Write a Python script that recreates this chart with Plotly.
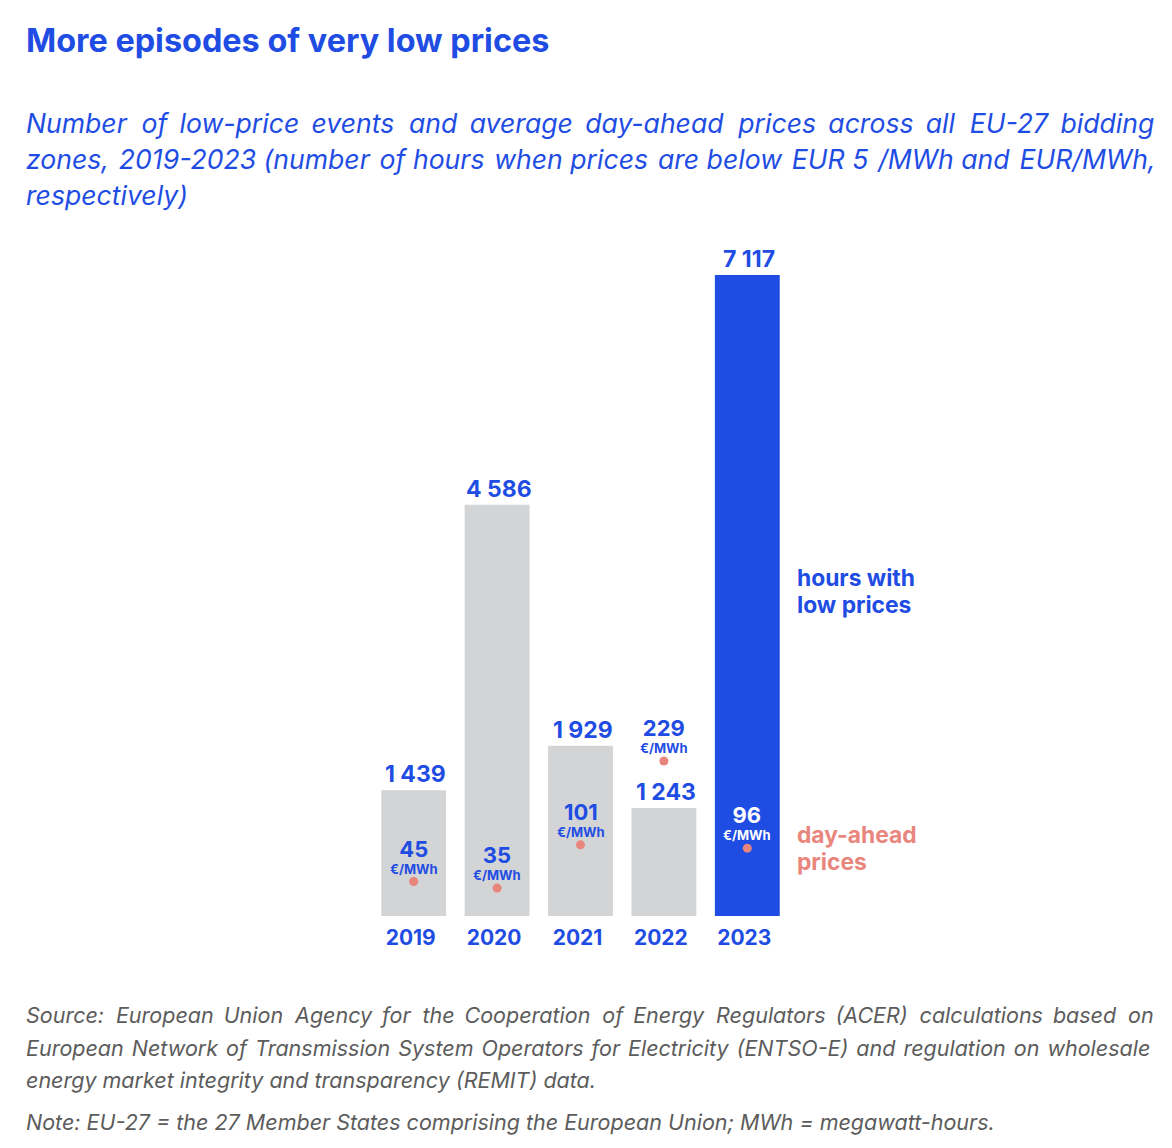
import plotly.graph_objects as go

# ---- data ----
years = ["2019", "2020", "2021", "2022", "2023"]
low_price_hours = [1439, 4586, 1929, 1243, 7117]
hour_labels = ["1 439", "4 586", "1 929", "1 243", "7 117"]
avg_prices = [45, 35, 101, 229, 96]
price_labels = ["45", "35", "101", "229", "96"]

# ---- styles ----
W, H = 1172, 1148
BLUE = "#1f4de3"
GREY = "#d3d4d6"
SALMON = "#e8867e"
NOTE = "#5c5c5c"
FONT = "Inter"
THIN = "\u2009"
HAIR = "\u200a"

def px(x):
    return x / W

def py(y):
    return 1 - y / H

def justify(line, extra, every=1):
    words = line.split(" ")
    out = words[0]
    for k, w in enumerate(words[1:]):
        out += (" " + extra if k % every == 0 else " ") + w
    return out

bar_colors = [GREY, GREY, GREY, GREY, BLUE]
price_text_colors = [BLUE, BLUE, BLUE, BLUE, "white"]
idx = list(range(len(years)))

fig = go.Figure()
fig.add_trace(go.Bar(
    x=idx, y=low_price_hours, marker=dict(color=bar_colors, line=dict(width=0)),
    width=0.778, hoverinfo="skip", showlegend=False,
))
fig.add_trace(go.Scatter(
    x=idx, y=avg_prices, yaxis="y2", mode="markers",
    marker=dict(color=SALMON, size=9), hoverinfo="skip", showlegend=False,
))

ann = []
# hours labels above bars
for i, v, t in zip(idx, low_price_hours, hour_labels):
    ann.append(dict(x=i, y=v, xref="x", yref="y", text=t, showarrow=False,
                    yanchor="middle", yshift=16, xshift=2,
                    font=dict(family=FONT, size=23, color=BLUE, weight=700)))
# price labels (number + unit in one block)
for i, p, t, c in zip(idx, avg_prices, price_labels, price_text_colors):
    ann.append(dict(x=i, y=p, xref="x", yref="y2",
                    text="<span style='font-size:22px'>" + t + "</span><br>€/MWh",
                    showarrow=False, yanchor="bottom", yshift=4, borderpad=0,
                    font=dict(family=FONT, size=13, color=c, weight=700)))

# title & subtitle
ann.append(dict(x=px(24), y=py(41), xref="paper", yref="paper", xanchor="left", yanchor="middle",
                text="More episodes of very low prices", showarrow=False,
                font=dict(family=FONT, size=32.4, color=BLUE, weight=700)))
sub_lines = [
    justify(justify("Number of low-price events and average day-ahead prices across all EU-27 bidding", THIN), HAIR, 3),
    justify("zones, 2019-2023 (number of hours when prices are below EUR 5 /MWh and EUR/MWh,", HAIR, 2),
    "respectively)",
]
for i, line in enumerate(sub_lines):
    ann.append(dict(x=px(24), y=py(123 + 36 * i), xref="paper", yref="paper", xanchor="left",
                    yanchor="middle", text="<i>" + line + "</i>", showarrow=False,
                    font=dict(family=FONT, size=26.6, color=BLUE)))

# series labels
for txt, yy, col in [("hours with", 577, BLUE), ("low prices", 604, BLUE),
                     ("day-ahead", 834, SALMON), ("prices", 861, SALMON)]:
    ann.append(dict(x=px(795), y=py(yy), xref="paper", yref="paper", xanchor="left",
                    yanchor="middle", text=txt, showarrow=False,
                    font=dict(family=FONT, size=22.8, color=col, weight=700)))

# source & note
src_lines = [
    justify(justify("Source: European Union Agency for the Cooperation of Energy Regulators (ACER) calculations based on", THIN), HAIR, 2),
    justify("European Network of Transmission System Operators for Electricity (ENTSO-E) and regulation on wholesale", HAIR),
    "energy market integrity and transparency (REMIT) data.",
]
for i, line in enumerate(src_lines):
    ann.append(dict(x=px(24), y=py(1015 + 32.5 * i), xref="paper", yref="paper", xanchor="left",
                    yanchor="middle", text="<i>" + line + "</i>", showarrow=False,
                    font=dict(family=FONT, size=21.5, color=NOTE)))
ann.append(dict(x=px(24), y=py(1122), xref="paper", yref="paper", xanchor="left",
                yanchor="middle",
                text="<i>Note: EU-27 = the 27 Member States comprising the European Union; MWh = megawatt-hours.</i>",
                showarrow=False, font=dict(family=FONT, size=21.5, color=NOTE)))

fig.update_layout(
    width=W, height=H, margin=dict(l=0, r=0, t=0, b=0),
    paper_bgcolor="white", plot_bgcolor="white",
    xaxis=dict(domain=[px(372), px(789)], range=[-0.5, 4.5],
               tickmode="array", tickvals=idx, ticktext=years,
               showgrid=False, zeroline=False, showline=False, ticks="",
               ticklabelstandoff=7, ticklabelshift=-3,
               tickfont=dict(family=FONT, size=21, color=BLUE, weight=700)),
    yaxis=dict(domain=[py(916), py(275)], range=[53, 7117], visible=False, fixedrange=True),
    yaxis2=dict(domain=[py(916), py(275)], range=[-7.6, 971], overlaying="y", visible=False),
    annotations=ann,
)
fig.write_html("out.html")
